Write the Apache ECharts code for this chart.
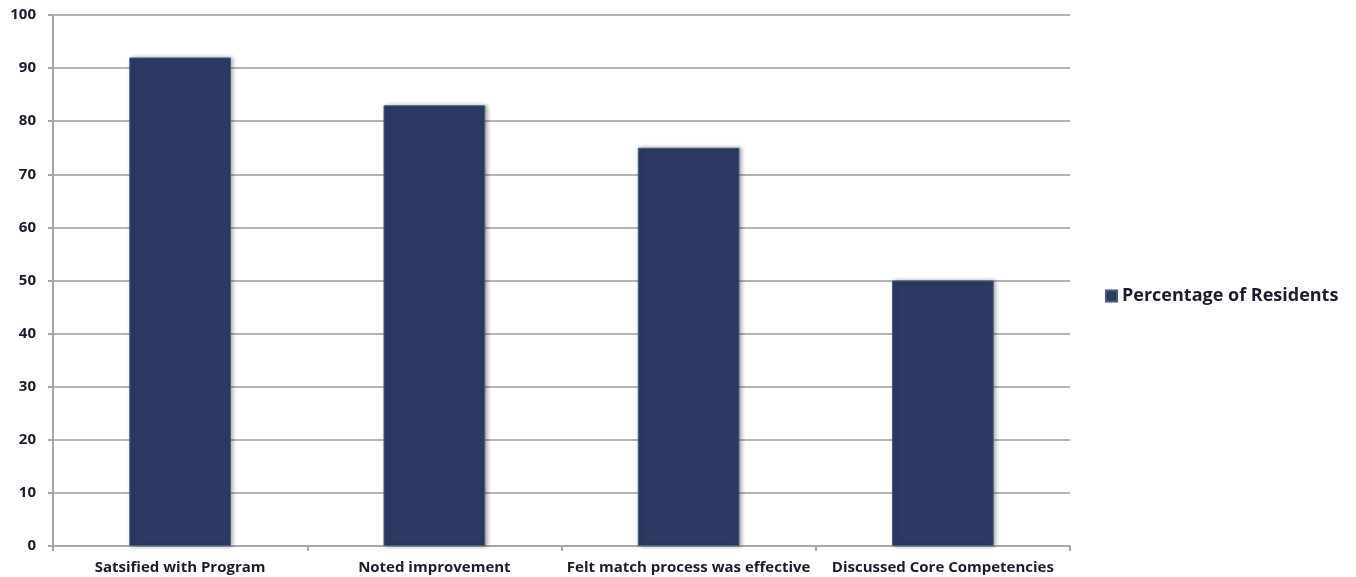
<!DOCTYPE html>
<html>
<head>
<meta charset="utf-8">
<script src="https://cdn.jsdelivr.net/npm/echarts@6/dist/echarts.min.js"></script>
<style>html,body{margin:0;padding:0;background:#fff}#c{width:1356px;height:577px}</style>
</head>
<body>
<div id="c"></div>
<script>
const categories = ["Satsified with Program", "Noted improvement", "Felt match process was effective", "Discussed Core Competencies"];
const values = [92, 83, 75, 50];
const seriesName = "Percentage of Residents";

const chart = echarts.init(document.getElementById('c'));
chart.setOption({
  animation: false,
  backgroundColor: '#ffffff',
  grid: { left: 53, right: 286, top: 15, bottom: 31, containLabel: false },
  legend: {
    data: [seriesName],
    left: 1100, top: 282,
    icon: 'rect', itemWidth: 11, itemHeight: 11, itemGap: 5,
    textStyle: { fontFamily: 'Open Sans', fontSize: 18, color: '#1c1c2c', fontWeight: 'bold' }
  },
  xAxis: {
    type: 'category',
    data: categories,
    axisLine: { lineStyle: { color: '#a8a8a8', width: 2 } },
    axisTick: { show: true, length: 5, lineStyle: { color: '#a8a8a8', width: 2 } },
    axisLabel: { interval: 0, fontFamily: 'Open Sans', fontSize: 15, color: '#1c1c2c', fontWeight: 'bold', margin: 14 }
  },
  yAxis: {
    type: 'value', min: 0, max: 100, interval: 10,
    axisLine: { show: true, lineStyle: { color: '#a8a8a8', width: 2 } },
    axisTick: { show: true, length: 5, lineStyle: { color: '#a8a8a8', width: 2 } },
    splitLine: { lineStyle: { color: '#b4b4b4', width: 2 } },
    axisLabel: { fontFamily: 'Open Sans', fontSize: 15, color: '#1c1c2c', fontWeight: 'bold', margin: 17 }
  },
  series: [{
    name: seriesName,
    type: 'bar',
    data: values,
    barWidth: '40%',
    itemStyle: {
      color: '#2c3a63',
      borderColor: '#4a5a86',
      borderWidth: 1,
      shadowColor: 'rgba(0,0,0,0.35)', shadowBlur: 4, shadowOffsetX: 2, shadowOffsetY: 0
    }
  }]
});
</script>
</body>
</html>
